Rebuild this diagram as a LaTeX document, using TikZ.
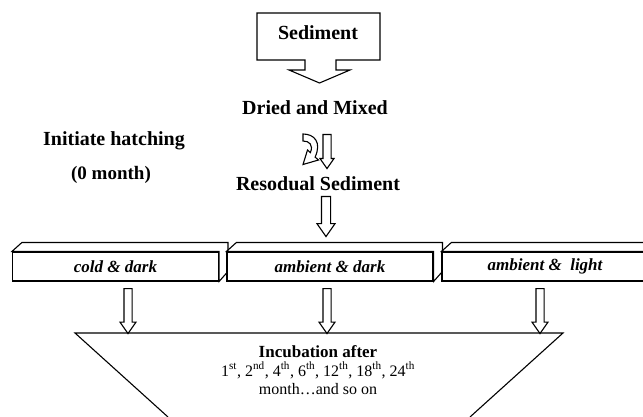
\documentclass[tikz,border=0pt]{standalone}
\usepackage{fontspec}
\setmainfont{Liberation Serif}
\usetikzlibrary{shapes.arrows, positioning, calc}

\begin{document}
\begin{tikzpicture}[
    x=1pt, y=-1pt,
    line width=1.1pt,
    lbl/.style={font=\fontsize{20}{24}\selectfont\bfseries, inner sep=0pt, anchor=base},
    cond/.style={rectangle, draw, fill=white, minimum width=206pt, minimum height=29pt, inner sep=0pt, font=\fontsize{17}{20}\selectfont\bfseries\itshape},
    darr/.style={single arrow, draw, fill=white, rotate=-90, anchor=tail, inner sep=3.5pt, single arrow head extend=4pt, single arrow tip angle=70, minimum height=45pt},
    inc/.style={inner sep=0pt, anchor=base, font=\fontsize{16}{19}\selectfont}
]
\useasboundingbox (0,0) rectangle (643,417);
\clip (0,0) rectangle (643,417);

% sediment callout
\draw (257,13) -- (380,13) -- (380,60) -- (336,60) -- (336,70) -- (350,70) -- (319.5,83)
    -- (289,70) -- (305,70) -- (305,60) -- (257,60) -- cycle;
\node[lbl] (sed) at (318,40) {Sediment};

\node[lbl] (dry) at (315,115) {Dried and Mixed};
\node[lbl] (res) at (318,191) {Resodual Sediment};

\node[lbl] (init) at (114,146) {Initiate hatching};
\node[lbl, font=\fontsize{19}{24}\selectfont\bfseries] (zero) at (111,180) {(0 month)};

% curved and straight arrows
\draw[fill=white] (303,134) .. controls (314,134) and (322,142) .. (315.1,157.1) -- (318.5,160) -- (303,164.5)
    -- (307.5,150) -- (310.4,152.6) .. controls (313.5,145) and (309.5,141) .. (303,141) -- cycle;
\node[darr, minimum height=34pt, single arrow head extend=3pt] (mix) at (327,134) {};
\node[darr, minimum height=40pt, inner sep=4pt, single arrow head extend=4.5pt] (down) at (326,196) {};

% condition bars
\foreach \nm/\cx/\txt in {cold/115.5/{cold \& dark}, ambd/330/{ambient \& dark}, ambl/545/{ambient \&~~light}} {
  \node[cond] (\nm) at (\cx,266.5) {\txt};
  \draw[fill=white] (\nm.north west) -- ++(10,-9) -- ++(206,0) -- ++(0,29) -- (\nm.south east) -- (\nm.north east) -- cycle;
}

\foreach \ax in {128, 327, 540}
  \node[darr] (d\ax) at (\ax,288) {};

% incubation funnel
\draw (168,417) -- (75,333) -- (563,333) -- (470,417);
\node[inc, font=\fontsize{17}{19}\selectfont\bfseries] (inc1) at (318,357) {Incubation after};
\node[inc] (inc2) at (318,376) {1\textsuperscript{st}, 2\textsuperscript{nd}, 4\textsuperscript{th}, 6\textsuperscript{th}, 12\textsuperscript{th}, 18\textsuperscript{th}, 24\textsuperscript{th}};
\node[inc] (inc3) at (318,394) {month\ldots and so on};

\end{tikzpicture}
\end{document}
